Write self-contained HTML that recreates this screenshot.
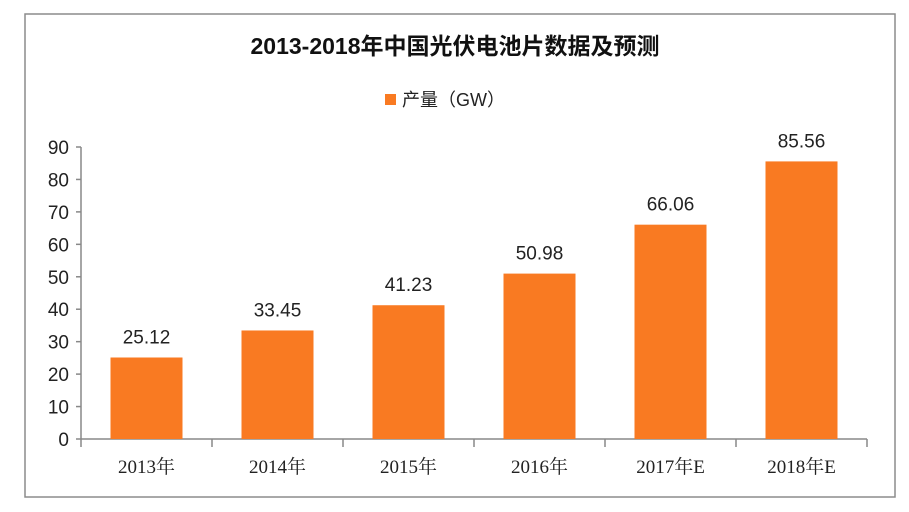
<!DOCTYPE html>
<html><head><meta charset="utf-8">
<style>
body{margin:0;background:#fff;width:909px;height:507px;overflow:hidden;font-family:"Liberation Sans","Noto Sans CJK SC",sans-serif;}
</style></head>
<body>
<svg width="909" height="507" id="chart">
<rect x="25" y="14" width="870" height="483" fill="#fff" stroke="#8c8c8c" stroke-width="1.5"/>
<text x="455" y="54" text-anchor="middle" font-size="23" font-weight="bold" fill="#111">2013-2018年中国光伏电池片数据及预测</text>
<g>
<rect x="385" y="94" width="11" height="11" fill="#f97a22"/>
<text x="402" y="106" font-size="18" fill="#222">产量（GW）</text>
</g>
<g id="plot"></g>
</svg>
<script>
const categories=["2013年","2014年","2015年","2016年","2017年E","2018年E"];
const values=[25.12,33.45,41.23,50.98,66.06,85.56];
const labels=["25.12","33.45","41.23","50.98","66.06","85.56"];
const yTicks=[0,10,20,30,40,50,60,70,80,90];
const ns="http://www.w3.org/2000/svg";
const g=document.getElementById('plot');
const x0=81,step=131,y0=439,yTop=147,ymax=90;
const y=v=>y0-(y0-yTop)*v/ymax;
const xc=i=>x0+step*(i+0.5);
function mk(t,a,txt){const e=document.createElementNS(ns,t);for(const k in a)e.setAttribute(k,a[k]);if(txt!==undefined)e.textContent=txt;g.appendChild(e);return e;}
let e=mk('line',{x1:x0,y1:yTop,x2:x0,y2:y0,stroke:'#888','stroke-width':1.5});


e=mk('line',{x1:x0,y1:y0,x2:x0+step*6,y2:y0,stroke:'#888','stroke-width':1.5});


yTicks.forEach(t=>{
 let l=mk('line',{x1:x0-5,y1:y(t),x2:x0,y2:y(t),stroke:'#888','stroke-width':1.5});
 
 
 let tx=mk('text',{x:x0-12,y:y(t)+7,'text-anchor':'end','font-size':19,fill:'#222'},String(t));
 
 
});
for(let i=0;i<=6;i++){
 let l=mk('line',{x1:x0+step*i,y1:y0,x2:x0+step*i,y2:y0+8,stroke:'#888','stroke-width':1.5});
 
 
}
categories.forEach((c,i)=>{
 let b=mk('rect',{x:xc(i)-36,y:y(values[i]),width:72,height:y0-y(values[i]),fill:'#f97a22'});
 
 
 let v=mk('text',{x:xc(i),y:y(values[i])-14,'text-anchor':'middle','font-size':19,fill:'#222'},labels[i]);
 
 
 let cl=mk('text',{x:xc(i),y:y0+34,'text-anchor':'middle','font-size':19,fill:'#222','font-family':'"Liberation Serif","Noto Serif CJK SC",serif'},c);
 
 
});
</script>
</body></html>
